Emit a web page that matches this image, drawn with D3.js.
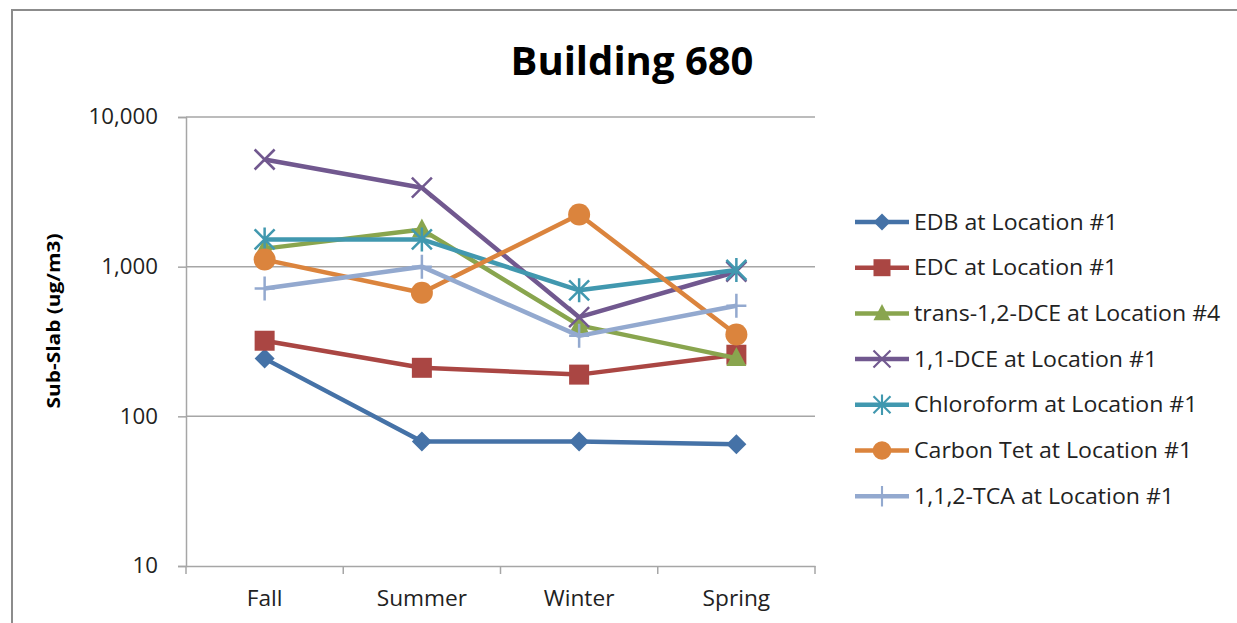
<!DOCTYPE html>
<html>
<head>
<meta charset="utf-8">
<script src="https://cdn.jsdelivr.net/npm/d3@7"></script>
<style>
  body { margin: 0; background: #fff; }
  text { font-family: "Open Sans", "Noto Sans", sans-serif; }
</style>
</head>
<body>
<svg id="chart" width="1237" height="623"></svg>
<script>
// seasons along the x axis
const seasons = ["Fall", "Summer", "Winter", "Spring"]

// one array per series, values in ug/m3
const edb       = [243, 68, 68, 65]
const edc       = [320, 211, 190, 258]
const transDce  = [1320, 1770, 405, 245]
const dce11     = [5200, 3370, 460, 925]
const chloro    = [1520, 1520, 695, 950]
const carbonTet = [1115, 670, 2230, 352]
const tca112    = [715, 1000, 345, 548]

const seriesNames = [
  "EDB at Location #1",
  "EDC at Location #1",
  "trans-1,2-DCE at Location #4",
  "1,1-DCE at Location #1",
  "Chloroform at Location #1",
  "Carbon Tet at Location #1",
  "1,1,2-TCA at Location #1"
]
const yTicks = [10, 100, 1000, 10000]

const colors = ["#4572A7", "#AA4643", "#89A54E", "#71588F", "#4198AF", "#DB843D", "#93A9CF"]
const shapes = ["diamond", "square", "triangle", "x", "star", "circle", "plus"]

const series = [edb, edc, transDce, dce11, chloro, carbonTet, tca112].map((v, i) => ({
  name: seriesNames[i], values: v, color: colors[i], shape: shapes[i]
}))

const svg = d3.select("#chart")

// widen text a little, the original font runs wider than Open Sans
function stretch(sel, k) {
  sel.each(function() {
    const w = this.getComputedTextLength()
    d3.select(this).attr("textLength", w * k).attr("lengthAdjust", "spacingAndGlyphs")
  })
}

// outer chart frame (right and bottom edges fall outside the picture)
svg.append("rect")
  .attr("x", 12).attr("y", 10)
  .attr("width", 1240).attr("height", 640)
  .attr("fill", "none").attr("stroke", "#8c8c8c").attr("stroke-width", 2)

const plotL = 186, plotR = 815, plotT = 117, plotB = 566

const x = d3.scaleBand().domain(seasons).range([plotL, plotR])
const y = d3.scaleLog().domain([10, 10000]).range([plotB, plotT])

// gridlines
svg.append("g")
  .selectAll("line")
  .data(yTicks.slice(1))
  .enter().append("line")
    .attr("x1", plotL).attr("x2", plotR)
    .attr("y1", d => y(d)).attr("y2", d => y(d))
    .attr("stroke", "#a6a6a6").attr("stroke-width", 1.5)

// y axis
const yAxis = svg.append("g")
  .attr("transform", `translate(${plotL},0)`)
  .call(d3.axisLeft(y).tickValues(yTicks).tickFormat(d3.format(",")).tickSize(8).tickPadding(20))
yAxis.select(".domain").attr("stroke", "#a6a6a6").attr("stroke-width", 1.5)
yAxis.selectAll(".tick line").attr("stroke", "#a6a6a6").attr("stroke-width", 1.5)
yAxis.selectAll("text").style("font-size", "21px").attr("fill", "#222").call(stretch, 1.06)

// x axis
const xAxis = svg.append("g")
  .attr("transform", `translate(0,${plotB})`)
  .call(d3.axisBottom(x).tickSize(0).tickPadding(25))
xAxis.select(".domain").attr("stroke", "#a6a6a6").attr("stroke-width", 1.5)
xAxis.selectAll("text").style("font-size", "21px").attr("fill", "#222").call(stretch, 1.08)
xAxis.selectAll(".sep")
  .data(seasons.map(s => x(s)).concat([plotR]))
  .enter().append("line")
    .attr("x1", d => d).attr("x2", d => d)
    .attr("y1", 0).attr("y2", 8)
    .attr("stroke", "#a6a6a6").attr("stroke-width", 1.5)

// title and axis label
svg.append("text")
  .attr("x", 632).attr("y", 75)
  .attr("text-anchor", "middle")
  .style("font-size", "40px").style("font-weight", "bold")
  .text("Building 680")

svg.append("text")
  .attr("transform", "translate(60,321) rotate(-90)")
  .attr("text-anchor", "middle")
  .style("font-size", "18px").style("font-weight", "bold")
  .text("Sub-Slab (ug/m3)")
  .call(stretch, 1.16)

function marker(g, shape, color) {
  if (shape == "diamond") {
    g.append("path").attr("d", "M0,-10L10,0L0,10L-10,0Z").attr("fill", color)
  } else if (shape == "square") {
    g.append("rect").attr("x", -10).attr("y", -10).attr("width", 20).attr("height", 20).attr("fill", color)
  } else if (shape == "triangle") {
    g.append("path").attr("d", "M0,-11L10,8L-10,8Z").attr("fill", color)
  } else if (shape == "circle") {
    g.append("circle").attr("r", 11).attr("fill", color)
  } else if (shape == "x") {
    g.append("path").attr("d", "M-10,-10L10,10M-10,10L10,-10").attr("stroke", color).attr("stroke-width", 2.5)
  } else if (shape == "star") {
    g.append("path").attr("d", "M-10,-10L10,10M-10,10L10,-10M0,-12L0,12").attr("stroke", color).attr("stroke-width", 2.5)
  } else if (shape == "plus") {
    g.append("path").attr("d", "M0,-12L0,12M-10,0L10,0").attr("stroke", color).attr("stroke-width", 2.5)
  }
}

const line = d3.line()
  .x((d, i) => x(seasons[i]) + x.bandwidth() / 2)
  .y(d => y(d))

const plot = svg.append("g")
series.forEach(s => {
  plot.append("path")
    .attr("d", line(s.values))
    .attr("fill", "none")
    .attr("stroke", s.color)
    .attr("stroke-width", 4.5)
    .attr("stroke-linejoin", "round")
  s.values.forEach((v, i) => {
    const g = plot.append("g")
      .attr("transform", `translate(${x(seasons[i]) + x.bandwidth() / 2},${y(v)})`)
    marker(g, s.shape, s.color)
  })
})

// legend
const legend = svg.append("g").attr("transform", "translate(855,222)")
series.forEach((s, i) => {
  const g = legend.append("g").attr("transform", `translate(0,${i * 45.7})`)
  g.append("line").attr("x1", 0).attr("x2", 54)
    .attr("stroke", s.color).attr("stroke-width", 4.5)
  const m = g.append("g").attr("transform", "translate(27,0) scale(0.85)")
  marker(m, s.shape, s.color)
  g.append("text")
    .attr("x", 59).attr("y", 7.5)
    .style("font-size", "21px").attr("fill", "#222")
    .text(s.name)
    .call(stretch, 1.1)
})
</script>
</body>
</html>
